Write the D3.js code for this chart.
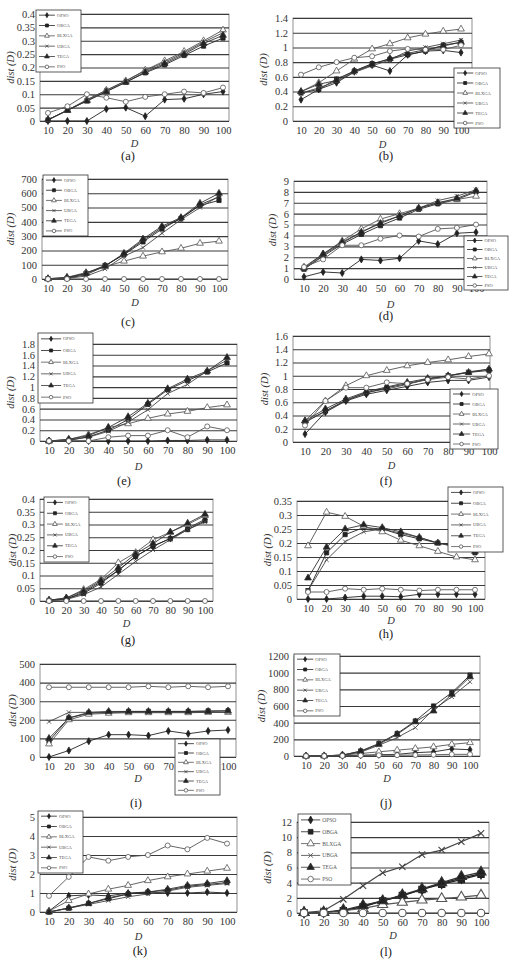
<!DOCTYPE html>
<html>
<head>
<meta charset="utf-8">
<script src="https://cdn.jsdelivr.net/npm/d3@7"></script>
<style>
  body { margin: 0; background: #fff; }
  svg { display: block; font-family: "Liberation Serif", "DejaVu Serif", serif; }
</style>
</head>
<body>
<div id="chart"></div>
<script>
const categories = [10, 20, 30, 40, 50, 60, 70, 80, 90, 100];
const seriesNames = ["OPSO", "OBGA", "BLXGA", "UBGA", "TEGA", "PSO"];

// each panel: one row per series, in seriesNames order
const dataA = [
  [0, 0, 0, 0.045, 0.05, 0.018, 0.08, 0.083, 0.1, 0.11],
  [0.003, 0.04, 0.075, 0.11, 0.145, 0.18, 0.21, 0.245, 0.28, 0.31],
  [0.005, 0.04, 0.08, 0.115, 0.15, 0.19, 0.225, 0.26, 0.3, 0.34],
  [0.005, 0.04, 0.078, 0.115, 0.15, 0.188, 0.22, 0.255, 0.295, 0.33],
  [0.005, 0.04, 0.075, 0.11, 0.145, 0.183, 0.215, 0.25, 0.29, 0.32],
  [0.03, 0.055, 0.1, 0.087, 0.072, 0.09, 0.1, 0.11, 0.105, 0.125]
];
const dataB = [
  [0.29, 0.43, 0.52, 0.67, 0.76, 0.68, 0.9, 0.95, 0.96, 0.93],
  [0.38, 0.43, 0.57, 0.68, 0.78, 0.84, 0.9, 0.95, 1.03, 1.07],
  [0.4, 0.52, 0.68, 0.84, 0.98, 1.05, 1.13, 1.18, 1.22, 1.25],
  [0.38, 0.45, 0.54, 0.66, 0.75, 0.83, 0.95, 1.0, 1.05, 1.1],
  [0.4, 0.5, 0.55, 0.68, 0.77, 0.85, 0.92, 0.97, 1.02, 1.07],
  [0.63, 0.73, 0.8, 0.86, 0.88, 0.95, 0.98, 0.97, 0.97, 1.03]
];
const dataC = [
  [2, 5, 30, 90, 175, 270, 360, 425, 520, 575],
  [2, 5, 40, 95, 170, 260, 350, 425, 515, 550],
  [2, 12, 45, 85, 125, 160, 190, 215, 250, 265],
  [2, 5, 20, 70, 160, 220, 320, 415, 500, 580],
  [2, 10, 40, 90, 180, 280, 370, 430, 530, 600],
  [0, 0, 0, 0, 0, 0, 0, 0, 0, 0]
];
const dataD = [
  [0.2, 0.65, 0.55, 1.8, 1.7, 1.9, 3.5, 3.2, 4.2, 4.3],
  [0.9, 2.1, 3.2, 4.1, 4.9, 5.6, 6.4, 6.9, 7.3, 8.0],
  [1.1, 2.3, 3.5, 4.6, 5.5, 6.0, 6.5, 7.0, 7.3, 7.6],
  [0.9, 2.2, 3.3, 4.3, 5.2, 5.8, 6.5, 7.2, 7.6, 8.2],
  [1.0, 2.3, 3.4, 4.3, 5.1, 5.8, 6.5, 7.0, 7.4, 8.1],
  [1.1, 1.8, 3.1, 3.1, 3.7, 4.0, 3.9, 4.6, 4.7, 5.0]
];
const dataE = [
  [0, 0, 0, 0, 0, 0, 0.01, 0.01, 0.02, 0.02],
  [0, 0.01, 0.08, 0.2, 0.4, 0.68, 0.95, 1.12, 1.28, 1.45],
  [0, 0.03, 0.12, 0.25, 0.32, 0.42, 0.5, 0.55, 0.62, 0.67],
  [0, 0.02, 0.07, 0.18, 0.35, 0.58, 0.88, 1.05, 1.3, 1.5],
  [0, 0.03, 0.1, 0.25, 0.45, 0.7, 0.97, 1.15, 1.3, 1.55],
  [0, 0, 0, 0.07, 0.1, 0.1, 0.2, 0.07, 0.27, 0.2]
];
const dataF = [
  [0.12, 0.45, 0.62, 0.72, 0.78, 0.84, 0.9, 0.93, 0.93, 0.98],
  [0.3, 0.47, 0.63, 0.74, 0.82, 0.88, 0.95, 1.0, 1.05, 1.08],
  [0.32, 0.62, 0.85, 1.0, 1.08, 1.15, 1.2, 1.24, 1.29, 1.33],
  [0.3, 0.46, 0.63, 0.75, 0.8, 0.87, 0.95, 1.0, 1.06, 1.1],
  [0.32, 0.5, 0.65, 0.76, 0.83, 0.9, 0.96, 1.0, 1.05, 1.1],
  [0.25, 0.62, 0.82, 0.82, 0.9, 0.88, 0.94, 0.98, 0.95, 1.0]
];
const dataG = [
  [0.002, 0.008, 0.035, 0.075, 0.12, 0.175, 0.215, 0.245, 0.285, 0.32],
  [0.002, 0.008, 0.03, 0.07, 0.12, 0.175, 0.215, 0.245, 0.28, 0.315],
  [0.003, 0.012, 0.045, 0.085, 0.15, 0.19, 0.24, 0.27, 0.3, 0.335],
  [0.002, 0.006, 0.025, 0.055, 0.105, 0.155, 0.2, 0.24, 0.28, 0.31],
  [0.003, 0.012, 0.04, 0.08, 0.13, 0.185, 0.225, 0.27, 0.305, 0.34],
  [0, 0, 0, 0, 0, 0, 0, 0, 0, 0]
];
const dataH = [
  [0, 0, 0.005, 0.01, 0.01, 0.008, 0.017, 0.017, 0.017, 0.017],
  [0.03, 0.165, 0.23, 0.255, 0.25, 0.23, 0.215, 0.2, 0.19, 0.165],
  [0.19, 0.31, 0.295, 0.26, 0.24, 0.21, 0.19, 0.17, 0.15, 0.14],
  [0.03, 0.14, 0.205, 0.24, 0.25, 0.235, 0.22, 0.2, 0.185, 0.175],
  [0.075, 0.185, 0.25, 0.265, 0.255, 0.24, 0.22, 0.2, 0.19, 0.17],
  [0.025, 0.025, 0.037, 0.033, 0.037, 0.033, 0.03, 0.033, 0.033, 0.033]
];
const dataI = [
  [0, 35, 85, 120, 120, 115, 140, 125, 140, 145],
  [85, 210, 235, 240, 245, 245, 245, 245, 248, 248],
  [70, 200, 230, 235, 238, 238, 238, 238, 240, 240],
  [190, 240, 240, 240, 240, 240, 240, 240, 240, 240],
  [100, 210, 240, 245, 245, 245, 245, 245, 245, 248],
  [375, 375, 375, 375, 375, 380, 375, 380, 375, 380]
];
const dataJ = [
  [0, 0, 2, 10, 15, 20, 40, 50, 85, 75],
  [0, 2, 10, 60, 150, 270, 420, 600, 760, 970],
  [0, 2, 10, 30, 50, 70, 90, 110, 140, 160],
  [0, 2, 10, 45, 130, 220, 340, 560, 710, 890],
  [0, 2, 12, 55, 140, 260, 410, 540, 740, 950],
  [0, 0, 2, 5, 10, 10, 12, 15, 20, 20]
];
const dataK = [
  [0.05, 0.85, 0.9, 0.85, 1.0, 1.05, 1.0, 1.0, 1.05, 1.0],
  [0, 0.2, 0.45, 0.7, 0.95, 1.05, 1.15, 1.35, 1.45, 1.55],
  [0.05, 0.6, 0.95, 1.2, 1.4, 1.65, 1.85, 2.0, 2.15, 2.3],
  [0, 0.2, 0.4, 0.6, 0.8, 0.95, 1.1, 1.3, 1.4, 1.5],
  [0, 0.22, 0.45, 0.75, 0.95, 1.05, 1.2, 1.4, 1.5, 1.65],
  [0.85, 1.85, 2.9, 2.7, 2.9, 3.0, 3.5, 3.3, 3.9, 3.6]
];
const dataL = [
  [0.05, 0.1, 0.3, 0.9, 1.6, 2.3, 3.1, 3.9, 4.6, 5.2],
  [0.05, 0.1, 0.3, 0.8, 1.6, 2.3, 3.1, 3.8, 4.4, 5.1],
  [0.05, 0.1, 0.3, 0.6, 1.1, 1.4, 1.7, 1.9, 2.1, 2.35],
  [0.05, 0.3, 1.8, 3.6, 5.3, 6.1, 7.7, 8.3, 9.4, 10.5],
  [0.05, 0.1, 0.4, 1.0, 1.6, 2.4, 3.2, 4.0, 4.8, 5.4],
  [0, 0, 0, 0, 0, 0, 0, 0, 0, 0]
];

const yTicksA = [0, 0.05, 0.1, 0.15, 0.2, 0.25, 0.3, 0.35, 0.4];
const yTicksB = [0, 0.2, 0.4, 0.6, 0.8, 1, 1.2, 1.4];
const yTicksC = [0, 100, 200, 300, 400, 500, 600, 700];
const yTicksD = [0, 1, 2, 3, 4, 5, 6, 7, 8, 9];
const yTicksE = [0, 0.2, 0.4, 0.6, 0.8, 1, 1.2, 1.4, 1.6, 1.8];
const yTicksF = [0, 0.2, 0.4, 0.6, 0.8, 1, 1.2, 1.4, 1.6];
const yTicksG = [0, 0.05, 0.1, 0.15, 0.2, 0.25, 0.3, 0.35, 0.4];
const yTicksH = [0, 0.05, 0.1, 0.15, 0.2, 0.25, 0.3, 0.35];
const yTicksI = [0, 100, 200, 300, 400, 500];
const yTicksJ = [0, 200, 400, 600, 800, 1000, 1200];
const yTicksK = [0, 1, 2, 3, 4, 5];
const yTicksL = [0, 2, 4, 6, 8, 10, 12];

// layout: plot box [left, right, top, bottom], x tick range, legend box [x, y, w, h]
const panels = [
  { name: "(a)", data: dataA, ticks: yTicksA, box: [40, 229, 14, 121], xr: [48, 223], leg: [36, 10, 45, 62], yl: 10, dy: 143, t: [128, 156] },
  { name: "(b)", data: dataB, ticks: yTicksB, box: [293, 472, 18, 121], xr: [301, 461], leg: [454, 68, 46, 60], yl: 263, dy: 144, t: [386, 156] },
  { name: "(c)", data: dataC, ticks: yTicksC, box: [42, 228, 179, 279], xr: [48, 219], leg: [43, 175, 45, 61], yl: 10, dy: 302, t: [128, 322] },
  { name: "(d)", data: dataD, ticks: yTicksD, box: [294, 487, 181, 279], xr: [304, 476], leg: [464, 236, 44, 54], yl: 272, dy: 304, t: [386, 316] },
  { name: "(e)", data: dataE, ticks: yTicksE, box: [40, 237, 344, 441], xr: [49, 227], leg: [38, 333, 55, 70], yl: 10, dy: 466, t: [124, 481] },
  { name: "(f)", data: dataF, ticks: yTicksF, box: [293, 490, 336, 442], xr: [305, 489], leg: [450, 389, 48, 60], yl: 264, dy: 465, t: [386, 481] },
  { name: "(g)", data: dataG, ticks: yTicksG, box: [40, 213, 499, 601], xr: [49, 205], leg: [44, 497, 45, 65], yl: 12, dy: 623, t: [128, 640] },
  { name: "(h)", data: dataH, ticks: yTicksH, box: [297, 485, 501, 599], xr: [308, 475], leg: [448, 487, 55, 65], yl: 267, dy: 620, t: [386, 634] },
  { name: "(i)", data: dataI, ticks: yTicksI, box: [40, 236, 664, 757], xr: [49, 228], leg: [175, 739, 45, 56], yl: 12, dy: 778, t: [136, 803] },
  { name: "(j)", data: dataJ, ticks: yTicksJ, box: [294, 480, 656, 756], xr: [306, 470], leg: [294, 654, 46, 62], yl: 261, dy: 778, t: [386, 803] },
  { name: "(k)", data: dataK, ticks: yTicksK, box: [40, 237, 817, 912], xr: [49, 227], leg: [38, 811, 45, 62], yl: 12, dy: 936, t: [140, 951] },
  { name: "(l)", data: dataL, ticks: yTicksL, box: [297, 489, 822, 913], xr: [304, 481], leg: [298, 814, 53, 71], yl: 267, dy: 935, t: [386, 952], big: true }
];

const W = 514, H = 980;
const svg = d3.select("#chart").append("svg")
  .attr("width", W)
  .attr("height", H);

// x-shaped marker
const symbolCross = {
  draw(ctx, size) {
    const r = Math.sqrt(size) / 2;
    ctx.moveTo(-r, -r); ctx.lineTo(r, r);
    ctx.moveTo(r, -r); ctx.lineTo(-r, r);
  }
};
const markers = [
  { type: d3.symbolDiamond, fill: "#222", scale: 0.8 },
  { type: d3.symbolSquare, fill: "#222", scale: 1 },
  { type: d3.symbolTriangle, fill: "#fff", scale: 1.1 },
  { type: symbolCross, fill: "none", scale: 1 },
  { type: d3.symbolTriangle, fill: "#222", scale: 1.1 },
  { type: d3.symbolCircle, fill: "#fff", scale: 1.1 }
];
const lineColors = ["#222", "#222", "#555", "#444", "#333", "#555"];

function drawMarker(g, k, cx, cy, base) {
  const m = markers[k];
  g.append("path")
    .attr("d", d3.symbol().type(m.type).size(base * m.scale)())
    .attr("transform", `translate(${cx},${cy})`)
    .attr("fill", m.fill)
    .attr("stroke", lineColors[k])
    .attr("stroke-width", base > 30 ? 1.1 : 0.8);
}

panels.forEach(p => {
  const [x0, x1, y0, y1] = p.box;
  const [lx, ly, lw, lh] = p.leg;
  const inLegend = (px, py) => px > lx && px < lx + lw && py > ly && py < ly + lh;
  const g = svg.append("g");

  const x = d3.scalePoint().domain(categories).range(p.xr);
  const y = d3.scaleLinear()
    .domain([0, d3.max(p.ticks)])
    .range([y1, y0]);

  // plot frame
  g.append("rect")
    .attr("x", x0).attr("y", y0)
    .attr("width", x1 - x0).attr("height", y1 - y0)
    .attr("fill", "#fff")
    .attr("stroke", "#777")
    .attr("stroke-width", 0.8);

  // grid lines
  const grid = g.append("g")
    .attr("transform", `translate(${x0},0)`)
    .call(d3.axisLeft(y).tickValues(p.ticks).tickSize(-(x1 - x0)).tickFormat(""));
  grid.select(".domain").remove();
  grid.selectAll("line").attr("stroke", "#3a3a3a").attr("stroke-width", 1.1);

  // y tick labels
  const yAxis = g.append("g")
    .attr("transform", `translate(${x0},0)`)
    .call(d3.axisLeft(y).tickValues(p.ticks).tickSize(0).tickPadding(5).tickFormat(d3.format("~g")));
  yAxis.select(".domain").remove();
  yAxis.selectAll("text")
    .attr("font-size", 10.5)
    .attr("font-family", "Liberation Serif")
    .attr("fill", "#333");

  // x tick labels (the ones the legend box covers are hidden, as in the source)
  const xAxis = g.append("g")
    .attr("transform", `translate(0,${y1})`)
    .call(d3.axisBottom(x).tickSize(0).tickPadding(6));
  xAxis.select(".domain").remove();
  xAxis.selectAll(".tick")
    .filter(d => inLegend(x(d), y1 + 11))
    .remove();
  xAxis.selectAll("text")
    .attr("font-size", 10.5)
    .attr("font-family", "Liberation Serif")
    .attr("fill", "#333");

  // series lines and markers
  const line = d3.line()
    .x((d, i) => x(categories[i]))
    .y(d => y(d));
  p.data.forEach((vals, k) => {
    g.append("path")
      .datum(vals)
      .attr("d", line)
      .attr("fill", "none")
      .attr("stroke", lineColors[k])
      .attr("stroke-width", p.big ? 1.2 : 0.9);
  });
  p.data.forEach((vals, k) => {
    vals.forEach((v, i) => drawMarker(g, k, x(categories[i]), y(v), p.big ? 40 : 18));
  });

  // legend
  g.append("rect")
    .attr("x", lx).attr("y", ly)
    .attr("width", lw).attr("height", lh)
    .attr("fill", "#fff")
    .attr("stroke", "#333")
    .attr("stroke-width", 0.8);
  const rowH = lh / 6;
  seriesNames.forEach((name, k) => {
    const cy = ly + rowH * (k + 0.5);
    const sx0 = lx + 3, sx1 = lx + lw * 0.42;
    g.append("line")
      .attr("x1", sx0).attr("x2", sx1)
      .attr("y1", cy).attr("y2", cy)
      .attr("stroke", lineColors[k])
      .attr("stroke-width", 0.8);
    drawMarker(g, k, (sx0 + sx1) / 2, cy, p.big ? 22 : 9);
    g.append("text")
      .attr("x", sx1 + 2)
      .attr("y", cy)
      .attr("dominant-baseline", "central")
      .attr("font-size", p.big ? 5.5 : 4.5)
      .attr("fill", "#555")
      .text(name);
  });

  // axis titles
  g.append("text")
    .attr("transform", `translate(${p.yl},${(y0 + y1) / 2}) rotate(-90)`)
    .attr("text-anchor", "middle")
    .attr("dominant-baseline", "central")
    .attr("font-size", 10.5)
    .attr("font-style", "italic")
    .attr("fill", "#333")
    .text("dist (D)");
  g.append("text")
    .attr("x", (x0 + x1) / 2)
    .attr("y", p.dy)
    .attr("text-anchor", "middle")
    .attr("dominant-baseline", "central")
    .attr("font-size", 10.5)
    .attr("font-style", "italic")
    .attr("fill", "#333")
    .text("D");

  // panel caption
  g.append("text")
    .attr("x", p.t[0])
    .attr("y", p.t[1])
    .attr("text-anchor", "middle")
    .attr("dominant-baseline", "central")
    .attr("font-size", 12.5)
    .attr("fill", "#222")
    .text(p.name);
});
</script>
</body>
</html>
